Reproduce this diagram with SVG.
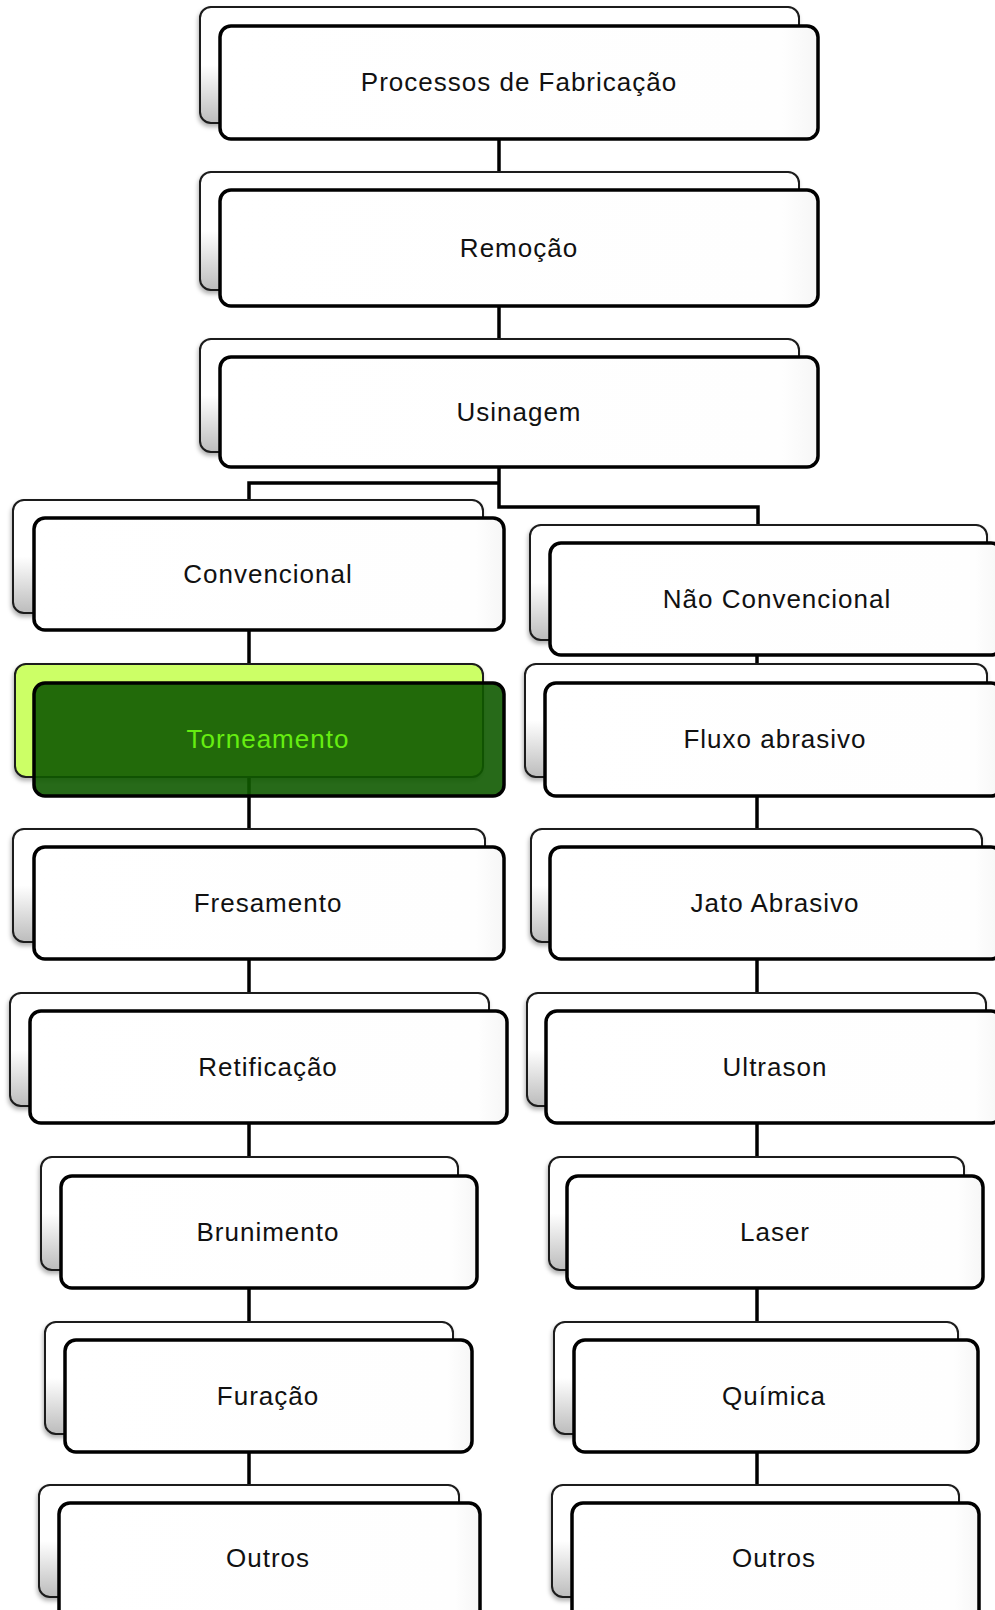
<svg xmlns="http://www.w3.org/2000/svg" width="995" height="1610" viewBox="0 0 995 1610">
<defs>
<linearGradient id="gb" x1="0" y1="0" x2="0" y2="1">
<stop offset="0" stop-color="#ffffff"/>
<stop offset="0.5" stop-color="#ffffff"/>
<stop offset="1" stop-color="#bcbcbc"/>
</linearGradient>
<linearGradient id="gf" x1="0" y1="0" x2="1" y2="0">
<stop offset="0" stop-color="#ffffff"/>
<stop offset="0.94" stop-color="#fefefe"/>
<stop offset="1" stop-color="#f6f6f6"/>
</linearGradient>
<filter id="sh" x="-5%" y="-5%" width="110%" height="120%">
<feDropShadow dx="-1" dy="3" stdDeviation="2" flood-color="#000" flood-opacity="0.3"/>
</filter>
<style>
.back{fill:url(#gb);stroke:#1a1a1a;stroke-width:2;filter:url(#sh)}
.front{fill:url(#gf);stroke:#000;stroke-width:3.5}
.lbl{font-family:"Liberation Sans",Arial,sans-serif;font-size:26px;letter-spacing:1px;text-anchor:middle;fill:#111}
.conn{stroke:#000;stroke-width:3.5;fill:none}
</style>
</defs>
<rect width="995" height="1610" fill="#ffffff"/>
<g id="connectors">
<path class="conn" d="M499 100 V180"/>
<path class="conn" d="M499 260 V345"/>
<path class="conn" d="M499 420 V507 H758 V530"/>
<path class="conn" d="M499 483 H249 V505"/>
<path class="conn" d="M249 600 V670"/>
<path class="conn" d="M249 740 V835"/>
<path class="conn" d="M249 900 V1000"/>
<path class="conn" d="M249 1070 V1165"/>
<path class="conn" d="M249 1230 V1330"/>
<path class="conn" d="M249 1400 V1490"/>
<path class="conn" d="M757 600 V670"/>
<path class="conn" d="M757 740 V835"/>
<path class="conn" d="M757 900 V1000"/>
<path class="conn" d="M757 1070 V1165"/>
<path class="conn" d="M757 1230 V1330"/>
<path class="conn" d="M757 1400 V1490"/>
</g>
<g id="n-processos">
<rect class="back" x="200" y="7" width="599" height="116" rx="11"/>
<rect class="front" x="220" y="26" width="598" height="113" rx="11"/>
<text class="lbl" x="519" y="91">Processos de Fabricação</text>
</g>
<g id="n-remocao">
<rect class="back" x="200" y="172" width="599" height="118" rx="11"/>
<rect class="front" x="220" y="190" width="598" height="116" rx="11"/>
<text class="lbl" x="519" y="257">Remoção</text>
</g>
<g id="n-usinagem">
<rect class="back" x="200" y="339" width="599" height="113" rx="11"/>
<rect class="front" x="220" y="357" width="598" height="110" rx="11"/>
<text class="lbl" x="519" y="421">Usinagem</text>
</g>
<g id="n-convencional">
<rect class="back" x="13" y="500" width="470" height="113" rx="11"/>
<rect class="front" x="34" y="518" width="470" height="112" rx="11"/>
<text class="lbl" x="268" y="583">Convencional</text>
</g>
<g id="n-torneamento">
<rect x="15" y="664" width="468" height="113" rx="11" fill="#ccff66" stroke="#1a1a1a" stroke-width="2" filter="url(#sh)"/>
<rect x="34" y="683" width="470" height="113" rx="11" fill="#105a00" fill-opacity="0.9" stroke="#000" stroke-width="3.5"/>
<text class="lbl" x="268" y="748" style="fill:#66ee11">Torneamento</text>
</g>
<g id="n-fresamento">
<rect class="back" x="13" y="829" width="472" height="113" rx="11"/>
<rect class="front" x="34" y="847" width="470" height="112" rx="11"/>
<text class="lbl" x="268" y="912">Fresamento</text>
</g>
<g id="n-retificacao">
<rect class="back" x="10" y="993" width="479" height="113" rx="11"/>
<rect class="front" x="30" y="1011" width="477" height="112" rx="11"/>
<text class="lbl" x="268" y="1076">Retificação</text>
</g>
<g id="n-brunimento">
<rect class="back" x="41" y="1157" width="417" height="113" rx="11"/>
<rect class="front" x="61" y="1176" width="416" height="112" rx="11"/>
<text class="lbl" x="268" y="1241">Brunimento</text>
</g>
<g id="n-furacao">
<rect class="back" x="45" y="1322" width="408" height="112" rx="11"/>
<rect class="front" x="65" y="1340" width="407" height="112" rx="11"/>
<text class="lbl" x="268" y="1405">Furação</text>
</g>
<g id="n-outros-l">
<rect class="back" x="39" y="1485" width="420" height="112" rx="11"/>
<rect class="front" x="59" y="1503" width="421" height="120" rx="11"/>
<text class="lbl" x="268" y="1567">Outros</text>
</g>
<g id="n-nao-convencional">
<rect class="back" x="530" y="525" width="457" height="115" rx="11"/>
<rect class="front" x="550" y="543" width="452" height="112" rx="11"/>
<text class="lbl" x="777" y="608">Não Convencional</text>
</g>
<g id="n-fluxo">
<rect class="back" x="525" y="664" width="462" height="113" rx="11"/>
<rect class="front" x="545" y="683" width="457" height="113" rx="11"/>
<text class="lbl" x="775" y="748">Fluxo abrasivo</text>
</g>
<g id="n-jato">
<rect class="back" x="531" y="829" width="451" height="113" rx="11"/>
<rect class="front" x="550" y="847" width="452" height="112" rx="11"/>
<text class="lbl" x="775" y="912">Jato Abrasivo</text>
</g>
<g id="n-ultrason">
<rect class="back" x="527" y="993" width="459" height="113" rx="11"/>
<rect class="front" x="546" y="1011" width="456" height="112" rx="11"/>
<text class="lbl" x="775" y="1076">Ultrason</text>
</g>
<g id="n-laser">
<rect class="back" x="549" y="1157" width="415" height="113" rx="11"/>
<rect class="front" x="567" y="1176" width="416" height="112" rx="11"/>
<text class="lbl" x="775" y="1241">Laser</text>
</g>
<g id="n-quimica">
<rect class="back" x="554" y="1322" width="404" height="112" rx="11"/>
<rect class="front" x="574" y="1340" width="404" height="112" rx="11"/>
<text class="lbl" x="774" y="1405">Química</text>
</g>
<g id="n-outros-r">
<rect class="back" x="552" y="1485" width="407" height="112" rx="11"/>
<rect class="front" x="572" y="1503" width="407" height="120" rx="11"/>
<text class="lbl" x="774" y="1567">Outros</text>
</g>
</svg>
